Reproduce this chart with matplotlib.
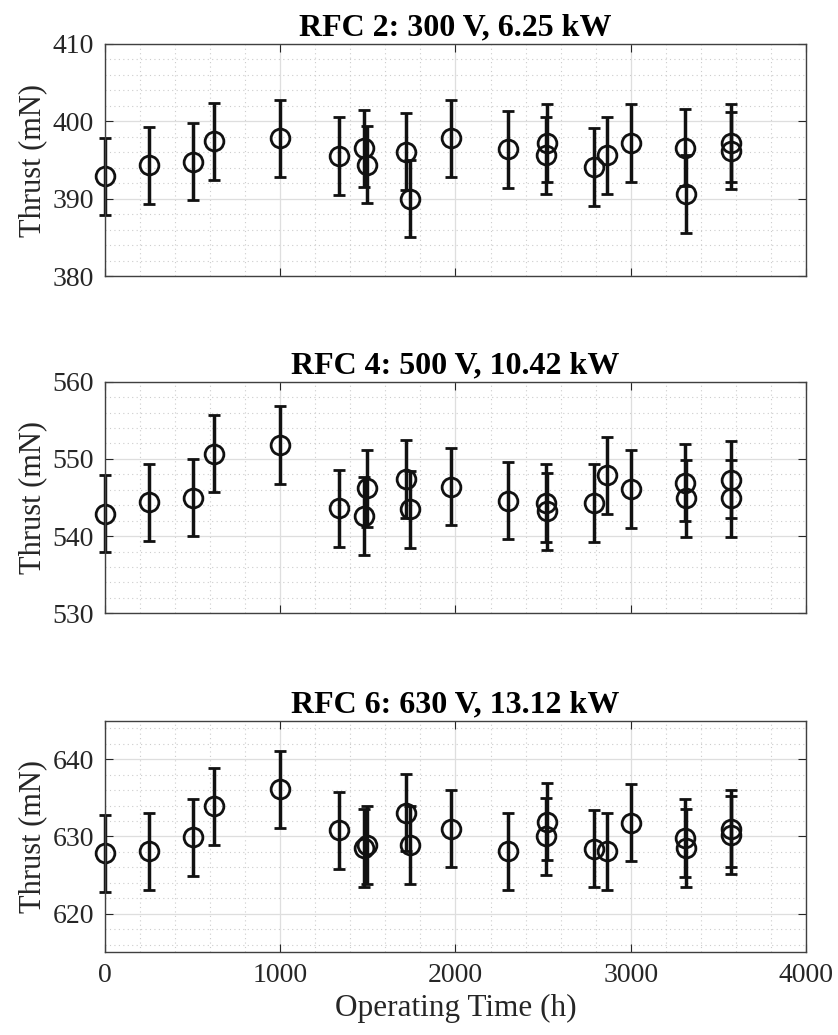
import matplotlib
matplotlib.use("Agg")
from matplotlib import pyplot as plt
from matplotlib.ticker import MultipleLocator
import numpy as np

plt.rcParams['font.family'] = ['Liberation Serif', 'DejaVu Serif']

# operating time of each thrust measurement (h)
hours = [0, 250, 500, 620, 1000, 1337, 1480, 1493, 1718, 1740, 1972,
         2301, 2516, 2522, 2792, 2862, 3001, 3310, 3315, 3572, 3574]

# thrust (mN)
rfc2 = [392.9, 394.3, 394.8, 397.4, 397.8, 395.5, 396.5, 394.4, 396.1, 390.0, 397.8,
        396.4, 395.6, 397.2, 394.1, 395.6, 397.2, 396.6, 390.6, 397.2, 396.2]
rfc4 = [542.9, 544.4, 545.0, 550.7, 551.8, 543.6, 542.6, 546.2, 547.4, 543.5, 546.4,
        544.6, 544.3, 543.2, 544.3, 547.9, 546.1, 546.9, 544.9, 547.3, 544.9]
rfc6 = [627.8, 628.1, 629.9, 633.9, 636.1, 630.8, 628.5, 628.9, 633.1, 628.9, 631.0,
        628.1, 630.0, 631.9, 628.4, 628.1, 631.8, 629.8, 628.5, 631.0, 630.2]
thrust_err = 5.0  # +/- mN, same on every point

titles = ["RFC 2: 300 V, 6.25 kW", "RFC 4: 500 V, 10.42 kW", "RFC 6: 630 V, 13.12 kW"]
ylims = [(380, 410), (530, 560), (615, 645)]
series = [rfc2, rfc4, rfc6]

fig = plt.figure(figsize=(8.38, 10.35), dpi=100)
boxes = [[0.1253, 0.7333, 0.8365, 0.2242],
         [0.1253, 0.4074, 0.8365, 0.2238],
         [0.1253, 0.0799, 0.8365, 0.2238]]

for i in range(3):
    ax = fig.add_axes(boxes[i])
    eb = ax.errorbar(hours, series[i], yerr=thrust_err, fmt='o', color='#111111',
                     mfc='none', mec='#111111', ms=13.5, mew=2.0,
                     elinewidth=2.5, capsize=4.5, capthick=2.5)
    for art in eb.get_children():
        art.set_clip_on(False)
    ax.set_xlim(0, 4000)
    ax.set_ylim(*ylims[i])
    ax.xaxis.set_major_locator(MultipleLocator(1000))
    ax.xaxis.set_minor_locator(MultipleLocator(200))
    ax.yaxis.set_major_locator(MultipleLocator(10))
    ax.yaxis.set_minor_locator(MultipleLocator(2))
    ax.grid(which='major', color='#dedede', lw=0.9, ls='-')
    ax.grid(which='minor', color='#cccccc', lw=0.8, ls=(0, (1, 3)))
    ax.set_axisbelow(True)
    ax.tick_params(which='major', direction='in', top=True, right=True,
                   length=6, width=0.8, color='#262626', labelsize=20, pad=8)
    ax.tick_params(which='minor', length=0)
    for s in ax.spines.values():
        s.set_color('#404040')
        s.set_linewidth(1.0)
    ax.set_title(titles[i], fontsize=23, fontweight='bold', pad=6)
    ax.set_ylabel("Thrust (mN)", fontsize=22, color='#262626', labelpad=4)
    for lab in ax.get_yticklabels():
        lab.set_color('#262626')
    if i < 2:
        ax.set_xticklabels([])
    else:
        ax.set_xlabel("Operating Time (h)", fontsize=22.5, color='#262626', labelpad=4)
        for lab in ax.get_xticklabels():
            lab.set_color('#262626')

fig.savefig("out.png", dpi=100)
